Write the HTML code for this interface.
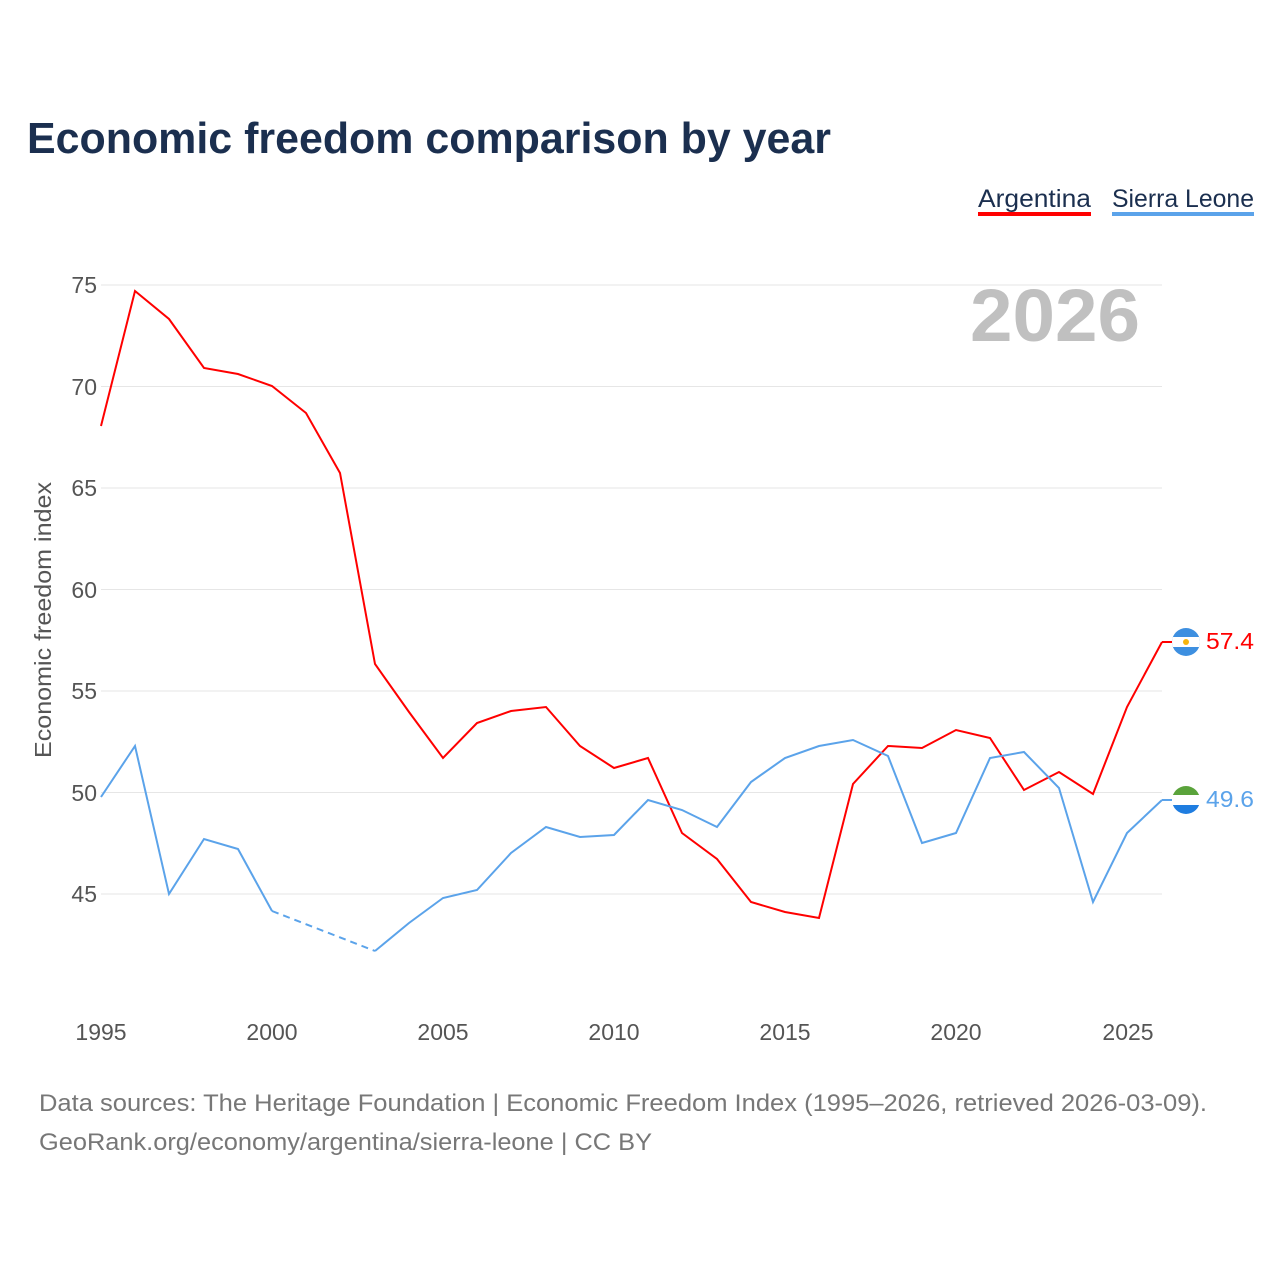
<!DOCTYPE html>
<html><head><meta charset="utf-8"><style>
body{margin:0;background:#fff;}
svg{display:block;font-family:"Liberation Sans",sans-serif;}
</style></head><body>
<svg width="1280" height="1280" viewBox="0 0 1280 1280" xmlns="http://www.w3.org/2000/svg">
<rect width="1280" height="1280" fill="#fff"/>
<text x="27" y="153" font-size="44" font-weight="bold" fill="#1b2f4f" textLength="804" lengthAdjust="spacingAndGlyphs">Economic freedom comparison by year</text>
<text x="978" y="207" font-size="25" fill="#1b2f4f" textLength="113" lengthAdjust="spacingAndGlyphs">Argentina</text>
<rect x="978" y="212" width="113" height="4" fill="#f00"/>
<text x="1112" y="207" font-size="25" fill="#1b2f4f" textLength="142" lengthAdjust="spacingAndGlyphs">Sierra Leone</text>
<rect x="1112" y="212" width="142" height="4" fill="#5ba3ea"/>
<g stroke="#e6e6e6" stroke-width="1">
<line x1="101" x2="1162" y1="285" y2="285"/><line x1="101" x2="1162" y1="386.5" y2="386.5"/>
<line x1="101" x2="1162" y1="488" y2="488"/><line x1="101" x2="1162" y1="589.5" y2="589.5"/>
<line x1="101" x2="1162" y1="691" y2="691"/><line x1="101" x2="1162" y1="792.5" y2="792.5"/>
<line x1="101" x2="1162" y1="894" y2="894"/>
</g>
<g font-size="23" fill="#555" text-anchor="end">
<text x="97" y="293">75</text><text x="97" y="395">70</text><text x="97" y="496">65</text>
<text x="97" y="598">60</text><text x="97" y="699">55</text><text x="97" y="801">50</text><text x="97" y="902">45</text>
</g>
<g font-size="23" fill="#555" text-anchor="middle">
<text x="101" y="1040">1995</text><text x="272" y="1040">2000</text><text x="443" y="1040">2005</text>
<text x="614" y="1040">2010</text><text x="785" y="1040">2015</text><text x="956" y="1040">2020</text><text x="1128" y="1040">2025</text>
</g>
<text transform="translate(51,620) rotate(-90)" font-size="23" fill="#555" text-anchor="middle" textLength="276" lengthAdjust="spacingAndGlyphs">Economic freedom index</text>
<text x="1140" y="341" font-size="74" font-weight="bold" fill="#c0c0c0" text-anchor="end" textLength="170" lengthAdjust="spacingAndGlyphs">2026</text>
<polyline fill="none" stroke="#f00" stroke-width="2" points="101,426 135,291 169,319 204,368 238,374 272,386 306,413 340,473 375,664 409,712 443,758 477,723 511,711 546,707 580,746 614,768 648,758 682,833 717,859 751,902 785,912 819,918 853,784 888,746 922,748 956,730 990,738 1024,790 1059,772 1093,794 1127,707 1162,642"/>
<polyline fill="none" stroke="#5ba3ea" stroke-width="2" points="101,797 135,746 169,894 204,839 238,849 272,911"/>
<polyline fill="none" stroke="#5ba3ea" stroke-width="2" stroke-dasharray="7,5" points="272,911 375,951"/>
<polyline fill="none" stroke="#5ba3ea" stroke-width="2" points="375,951 409,923 443,898 477,890 511,853 546,827 580,837 614,835 648,800 682,810 717,827 751,782 785,758 819,746 853,740 888,756 922,843 956,833 990,758 1024,752 1059,788 1093,902 1127,833 1162,800"/>
<line x1="1162" y1="642" x2="1172" y2="642" stroke="#f00" stroke-width="2"/>
<line x1="1162" y1="800" x2="1172" y2="800" stroke="#5ba3ea" stroke-width="2"/>
<clipPath id="c1"><circle cx="1186" cy="642" r="14"/></clipPath>
<g clip-path="url(#c1)"><rect x="1170" y="626" width="32" height="32" fill="#3d8fe0"/><rect x="1170" y="637" width="32" height="10" fill="#fff"/><circle cx="1186" cy="642" r="3" fill="#f6b40e"/></g>
<clipPath id="c2"><circle cx="1186" cy="800" r="14"/></clipPath>
<g clip-path="url(#c2)"><rect x="1170" y="784" width="32" height="11" fill="#5aa33b"/><rect x="1170" y="795" width="32" height="10" fill="#fff"/><rect x="1170" y="805" width="32" height="12" fill="#1f7de0"/></g>
<text x="1206" y="649" font-size="23" fill="#f00" textLength="48" lengthAdjust="spacingAndGlyphs">57.4</text>
<text x="1206" y="807" font-size="23" fill="#5ba3ea" textLength="48" lengthAdjust="spacingAndGlyphs">49.6</text>
<text x="39" y="1111" font-size="24" fill="#777" textLength="1168" lengthAdjust="spacingAndGlyphs">Data sources: The Heritage Foundation | Economic Freedom Index (1995–2026, retrieved 2026-03-09).</text>
<text x="39" y="1150" font-size="24" fill="#777" textLength="613" lengthAdjust="spacingAndGlyphs">GeoRank.org/economy/argentina/sierra-leone | CC BY</text>
</svg>
</body></html>
